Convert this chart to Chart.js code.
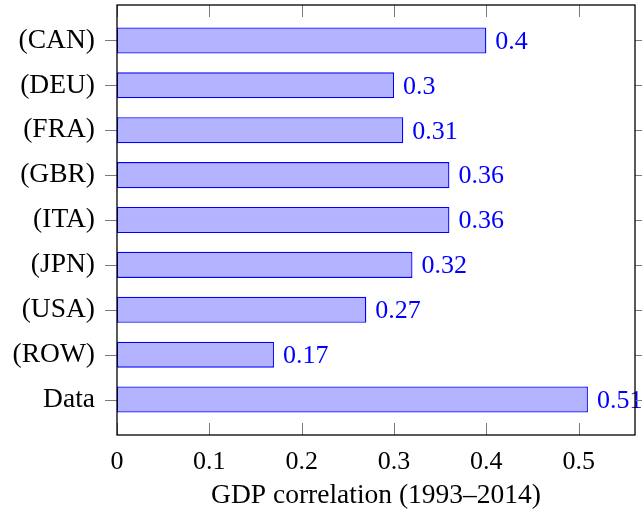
<!DOCTYPE html>
<html>
<head>
<meta charset="utf-8">
<script src="https://cdn.jsdelivr.net/npm/chart.js@4/dist/chart.umd.min.js"></script>
<style>
  html, body { margin: 0; padding: 0; background: #fff; }
  #wrap { width: 642px; height: 512px; }
</style>
</head>
<body>
<div id="wrap"><canvas id="c" width="642" height="512"></canvas></div>
<script>
// Regions, top to bottom
const categories = ['(CAN)', '(DEU)', '(FRA)', '(GBR)', '(ITA)', '(JPN)', '(USA)', '(ROW)', 'Data'];
// GDP correlation over 1993–2014
const correlations = [0.4, 0.3, 0.31, 0.36, 0.36, 0.32, 0.27, 0.17, 0.51];
// Ticks along the value axis
const xTickValues = [0, 0.1, 0.2, 0.3, 0.4, 0.5];
const xAxisTitle = 'GDP correlation (1993–2014)';

const SERIF = '"Liberation Serif", "Times New Roman", serif';
const NUM_SIZE = 26;
const TEXT_SIZE = 27.5;

const points = correlations.map((v, i) => ({ x: v, y: i }));

// Frame around the plot area, with inward ticks on the value axis
// and outward ticks on the category axis (mirrored on both sides).
const framePlugin = {
  id: 'frame',
  afterDraw(chart) {
    const { ctx, chartArea: a, scales } = chart;
    const tickLen = 12;
    ctx.save();
    ctx.strokeStyle = '#7a7a7a';
    ctx.lineWidth = 1;
    ctx.beginPath();
    xTickValues.forEach(v => {
      const px = Math.round(scales.x.getPixelForValue(v)) + 0.5;
      ctx.moveTo(px, a.bottom); ctx.lineTo(px, a.bottom - tickLen);
      ctx.moveTo(px, a.top); ctx.lineTo(px, a.top + tickLen);
    });
    categories.forEach((_, i) => {
      const py = Math.round(scales.y.getPixelForValue(i)) + 0.5;
      ctx.moveTo(a.left, py); ctx.lineTo(a.left - tickLen, py);
      ctx.moveTo(a.right, py); ctx.lineTo(a.right + tickLen, py);
    });
    ctx.stroke();
    ctx.strokeStyle = '#000';
    ctx.lineWidth = 1.3;
    ctx.strokeRect(a.left, a.top, a.right - a.left, a.bottom - a.top);
    ctx.restore();
  }
};

// Value written to the right of each bar
const valueLabels = {
  id: 'valueLabels',
  afterDatasetsDraw(chart) {
    const { ctx } = chart;
    const meta = chart.getDatasetMeta(0);
    ctx.save();
    ctx.fillStyle = '#0000ff';
    ctx.font = NUM_SIZE + 'px ' + SERIF;
    ctx.textAlign = 'left';
    ctx.textBaseline = 'middle';
    meta.data.forEach((bar, i) => {
      ctx.fillText(String(correlations[i]), bar.x + 9, bar.y + 1.5);
    });
    ctx.restore();
  }
};

new Chart(document.getElementById('c'), {
  type: 'bar',
  data: {
    datasets: [{
      data: points,
      backgroundColor: 'rgb(179,179,255)',
      borderColor: '#0000ff',
      borderWidth: 1.3,
      borderSkipped: false,
      barPercentage: 0.58,
      categoryPercentage: 1
    }]
  },
  options: {
    indexAxis: 'y',
    responsive: false,
    animation: false,
    devicePixelRatio: 1,
    layout: { padding: { top: 5, right: 7, left: 0, bottom: 0 } },
    plugins: { legend: { display: false }, tooltip: { enabled: false } },
    scales: {
      x: {
        type: 'linear',
        position: 'bottom',
        min: 0,
        max: 0.561,
        afterBuildTicks(scale) { scale.ticks = xTickValues.map(v => ({ value: v })); },
        afterFit(scale) {
          scale.height = 77;
          scale.paddingLeft = 0;
          scale.paddingRight = 0;
        },
        grid: { display: false, drawTicks: false },
        border: { display: false },
        ticks: {
          color: '#000',
          padding: 12,
          maxRotation: 0,
          font: { family: SERIF, size: NUM_SIZE },
          callback: v => String(v)
        },
        title: {
          display: true,
          text: xAxisTitle,
          color: '#000',
          font: { family: SERIF, size: TEXT_SIZE },
          padding: { top: 0, bottom: 0 }
        }
      },
      y: {
        type: 'linear',
        position: 'left',
        reverse: true,
        offset: false,
        min: -0.79,
        max: 8.79,
        afterBuildTicks(scale) { scale.ticks = categories.map((_, i) => ({ value: i })); },
        afterFit(scale) {
          scale.width = 117;
          scale.paddingTop = 0;
          scale.paddingBottom = 0;
        },
        grid: { display: false, drawTicks: false, offset: false },
        border: { display: false },
        ticks: {
          color: '#000',
          padding: 22,
          font: { family: SERIF, size: TEXT_SIZE },
          callback: v => categories[v]
        }
      }
    }
  },
  plugins: [framePlugin, valueLabels]
});
</script>
</body>
</html>
